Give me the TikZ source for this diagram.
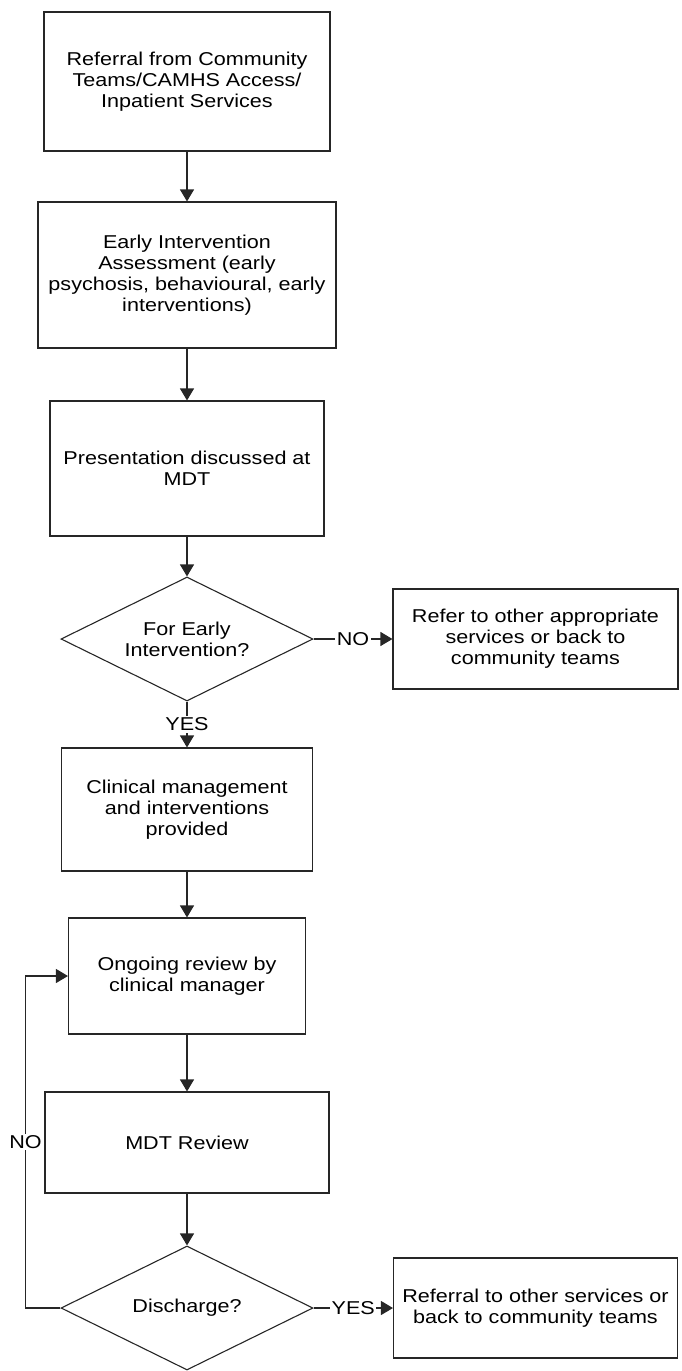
\documentclass[tikz,border=0pt]{standalone}
\usepackage{fontspec}
\setmainfont[FakeStretch=1.16]{Liberation Sans}
\usepackage{tikz}
\usetikzlibrary{shapes.geometric, arrows.meta, positioning, calc}
\definecolor{LineGrey}{HTML}{262626}

\begin{document}
\begin{tikzpicture}[x=0.5pt, y=-0.5pt, >={Triangle[length=6pt,width=7pt]},
    font=\fontsize{9.3}{10.5}\selectfont,
    box/.style={draw=LineGrey, line width=0.55pt, align=center, inner sep=2pt},
    decision/.style={draw=LineGrey, line width=0.55pt, diamond, aspect=2, align=center,
        inner sep=0pt, minimum width=126pt, minimum height=62pt},
    flow/.style={->, draw=LineGrey, line width=0.55pt},
    lbl/.style={fill=white, inner sep=0.8pt}]
    \useasboundingbox (0,0) rectangle (681,1371);

    % main column
    \node [box, minimum width=143pt, minimum height=69.5pt] (referral) at (187, 81.5)
        {Referral from Community\\Teams/CAMHS Access/\\Inpatient Services};
    \node [box, minimum width=149pt, minimum height=73pt] (assess) at (187, 275)
        {Early Intervention\\Assessment (early\\psychosis, behavioural, early\\interventions)};
    \node [box, minimum width=137pt, minimum height=67.5pt] (present) at (187, 468.5)
        {Presentation discussed at\\MDT};
    \node [decision] (foreip) at (187, 639) {For Early\\Intervention?};
    \node [box, minimum width=125.5pt, minimum height=61.5pt] (clinical) at (187, 809.5)
        {Clinical management\\and interventions\\provided};
    \node [box, minimum width=118.5pt, minimum height=58pt] (ongoing) at (187, 976)
        {Ongoing review by\\clinical manager};
    \node [box, minimum width=142pt, minimum height=50.5pt] (mdtrev) at (187, 1142.5)
        {MDT Review};
    \node [decision] (disch) at (187, 1308) {Discharge?};

    % side exits
    \node [box, minimum width=142.5pt, minimum height=50pt] (referother) at (535.5, 639)
        {Refer to other appropriate\\services or back to\\community teams};
    \node [box, minimum width=142pt, minimum height=50pt] (referback) at (535.5, 1308)
        {Referral to other services or\\back to community teams};

    % connectors
    \draw [flow] (referral) -- (assess);
    \draw [flow] (assess) -- (present);
    \draw [flow] (present) -- (foreip);
    \draw [flow] (foreip) -- node [lbl] {NO} (referother);
    \draw [flow] (foreip) -- node [lbl] {YES} (clinical);
    \draw [flow] (clinical) -- (ongoing);
    \draw [flow] (ongoing) -- (mdtrev);
    \draw [flow] (mdtrev) -- (disch);
    \draw [flow] (disch) -- node [lbl] {YES} (referback);
    \draw [flow] (disch.west) -- ++(-35,0) |- node [lbl, pos=0.25] {NO} (ongoing.west);
\end{tikzpicture}
\end{document}
